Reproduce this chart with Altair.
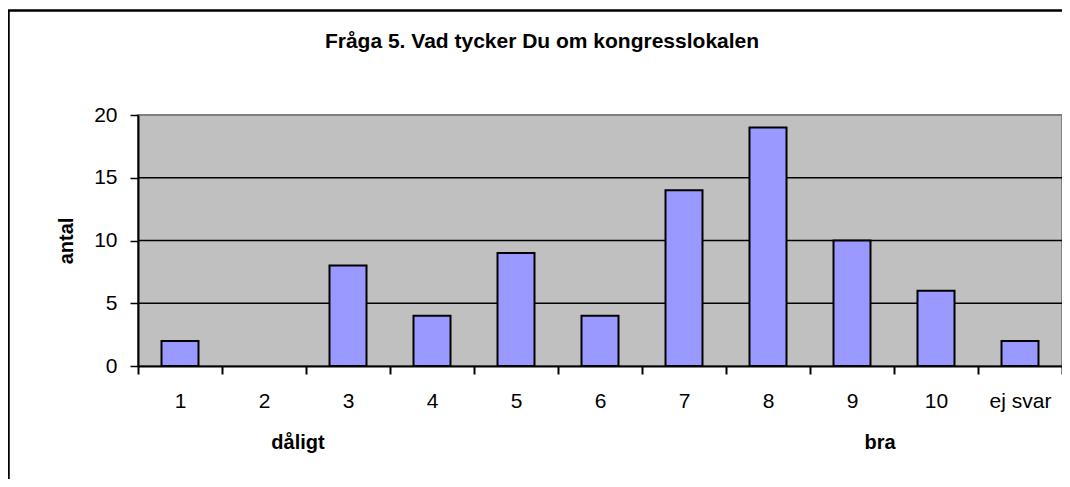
import altair as alt
import pandas as pd

categories = ["1", "2", "3", "4", "5", "6", "7", "8", "9", "10", "ej svar"]
counts = [2, 0, 8, 4, 9, 4, 14, 19, 10, 6, 2]
y_ticks = [0, 5, 10, 15, 20]
grid_values = [5, 10, 15]

title_text = "Fråga 5. Vad tycker Du om kongresslokalen"
y_title = "antal"
low_label = "dåligt"
high_label = "bra"

FONT = "Liberation Sans"
W, H = 924, 251

df = pd.DataFrame({"cat": categories, "val": counts})
grid_df = pd.DataFrame({"g": grid_values})

xscale = alt.Scale(domain=categories, paddingInner=0, paddingOuter=0)
yscale = alt.Scale(domain=[0, 20], nice=False)
one = pd.DataFrame({"a": [0]})

plot_bg = alt.Chart(one).mark_rect(fill="#C0C0C0", stroke="#808080", strokeWidth=2).encode(
    x=alt.value(0), x2=alt.value(W), y=alt.value(0), y2=alt.value(H))

grid = alt.Chart(grid_df).mark_rule(color="black", strokeWidth=1.5).encode(
    y=alt.Y("g:Q", scale=yscale), x=alt.value(0), x2=alt.value(W))

bars = alt.Chart(df).transform_filter("datum.val > 0").mark_bar(
    size=37, fill="#9999FF", stroke="black", strokeWidth=2
).encode(
    x=alt.X("cat:N", scale=xscale, axis=alt.Axis(
        title=None, labelAngle=0, tickBand="extent", grid=False, zindex=1,
        domainColor="black", domainWidth=2, tickColor="black", tickWidth=2,
        tickSize=8, labelFontSize=21, labelFont=FONT, labelColor="black",
        labelPadding=16)),
    y=alt.Y("val:Q", scale=yscale, axis=alt.Axis(
        values=y_ticks, title=y_title, grid=False, zindex=1,
        domainColor="black", domainWidth=2, tickColor="black",
        tickWidth=1.5, tickSize=8, labelFontSize=21, labelFont=FONT,
        labelColor="black", labelPadding=13,
        titleFontSize=20, titleFont=FONT, titleFontWeight="bold", titleColor="black",
        titleX=-66, titleY=H / 2, titleAngle=270, titleAlign="center",
        titleBaseline="alphabetic")),
)

low_df = pd.DataFrame({"cat": ["2"], "t": [low_label]})
high_df = pd.DataFrame({"cat": ["9"], "t": [high_label]})

low = alt.Chart(low_df).mark_text(
    font=FONT, fontSize=20, fontWeight="bold", color="black",
    baseline="alphabetic", dx=34
).encode(x=alt.X("cat:N", scale=xscale), y=alt.value(334), text="t:N")

high = alt.Chart(high_df).mark_text(
    font=FONT, fontSize=20, fontWeight="bold", color="black",
    baseline="alphabetic", dx=28
).encode(x=alt.X("cat:N", scale=xscale), y=alt.value(334), text="t:N")

title = alt.Chart(pd.DataFrame({"t": [title_text]})).mark_text(
    font=FONT, fontSize=21, fontWeight="bold", color="black",
    baseline="alphabetic", align="center"
).encode(x=alt.value(W / 2 - 58), y=alt.value(-67), text="t:N")

frame = alt.Chart(one).mark_rect(
    fillOpacity=0, stroke="black", strokeWidth=2.5
).encode(x=alt.value(-129.5), x2=alt.value(W + 200), y=alt.value(-104.5), y2=alt.value(H + 300))

chart = alt.layer(plot_bg, grid, bars, low, high, title, frame).properties(
    width=W, height=H,
    padding={"left": 130, "top": 107, "right": 0, "bottom": 113},
    autosize=alt.AutoSizeParams(type="none"),
).configure_view(
    strokeWidth=0
).configure(background="white", font=FONT)

chart.save("out.html", embed_options={"renderer": "svg", "actions": False})
